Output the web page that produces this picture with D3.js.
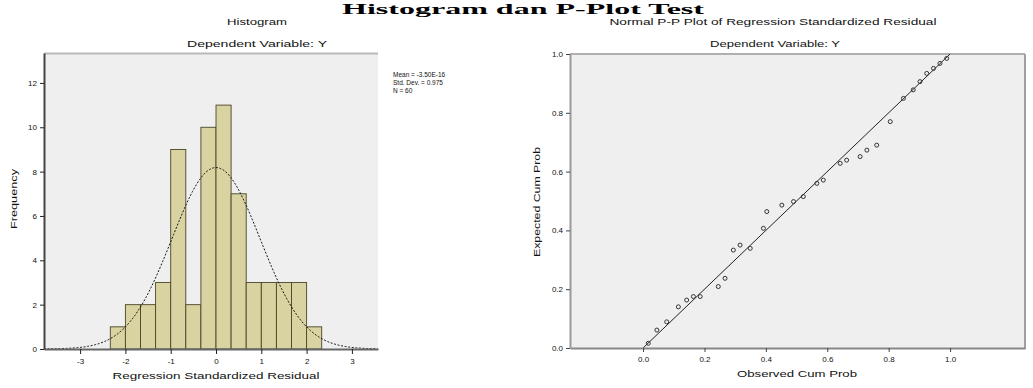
<!DOCTYPE html>
<html><head><meta charset="utf-8">
<script src="https://cdn.jsdelivr.net/npm/d3@7"></script>
<style>
html,body{margin:0;padding:0;background:#fff;}
svg{display:block;font-family:"Liberation Sans",Arial,sans-serif;}
</style></head>
<body>
<svg id="c" width="1033" height="388"></svg>
<script>
// ---------- data ----------
const mainTitle = "Histogram dan P-Plot Test";
const histTitle = "Histogram";
const depVar = "Dependent Variable: Y";
const ppTitle = "Normal P-P Plot of Regression Standardized Residual";

const binStart = -7/3, binWidth = 1/3;
const binCounts = [1, 2, 2, 3, 9, 2, 10, 11, 7, 3, 3, 3, 3, 1];
const histStats = {mean: -3.50e-16, sd: 0.975, n: 60};
const histLegend = ["Mean = -3.50E-16", "Std. Dev. = 0.975", "N = 60"];
const histXTicks = [-3, -2, -1, 0, 1, 2, 3];
const histYTicks = [0, 2, 4, 6, 8, 10, 12];

const ppObserved = [0.017,0.045,0.077,0.115,0.142,0.164,0.186,0.245,0.267,0.294,0.316,0.349,0.392,0.403,0.452,0.490,0.522,0.566,0.587,0.642,0.663,0.707,0.729,0.761,0.805,0.848,0.880,0.902,0.924,0.946,0.967,0.989];
const ppExpected = [0.016,0.061,0.089,0.140,0.163,0.175,0.175,0.209,0.237,0.333,0.350,0.339,0.407,0.464,0.486,0.498,0.515,0.560,0.571,0.628,0.639,0.651,0.673,0.690,0.770,0.849,0.878,0.906,0.934,0.951,0.968,0.985];
const ppTicks = [0, 0.2, 0.4, 0.6, 0.8, 1.0];

// ---------- drawing ----------
const svg = d3.select("#c");

svg.append("text").attr("x", 523).attr("y", 14).attr("text-anchor","middle")
  .attr("font-family","'Liberation Serif','Times New Roman',serif").attr("font-weight","bold")
  .attr("font-size", 15.5).attr("textLength", 362).attr("lengthAdjust","spacingAndGlyphs")
  .text(mainTitle);

function label(x, y, txt, len, size, rot) {
  const t = svg.append("text").attr("text-anchor","middle").attr("font-size", size || 9)
    .attr("fill","#111").text(txt);
  if (len) t.attr("textLength", len).attr("lengthAdjust","spacingAndGlyphs");
  if (rot) t.attr("transform", `translate(${x},${y}) rotate(-90)`);
  else t.attr("x", x).attr("y", y);
  return t;
}

// ===== Histogram =====
const hx = d3.scaleLinear().domain([-3.797, 3.576]).range([44, 378]);
const hy = d3.scaleLinear().domain([0, 13.35]).range([349, 53]);

svg.append("rect").attr("x", 44).attr("y", 53).attr("width", 334).attr("height", 296).attr("fill", "#efefef");
svg.append("line").attr("x1",44).attr("x2",378).attr("y1",53.5).attr("y2",53.5).attr("stroke","#b9b9b9").attr("stroke-width",2);

const bins = binCounts.map((c,i)=>({x0: binStart + i*binWidth, x1: binStart + (i+1)*binWidth, c}));
svg.append("g").selectAll("rect").data(bins).join("rect")
  .attr("x", d=>hx(d.x0)).attr("width", d=>hx(d.x1)-hx(d.x0))
  .attr("y", d=>hy(d.c)).attr("height", d=>hy(0)-hy(d.c))
  .attr("fill", "#d8d3a1").attr("stroke", "#4a4628").attr("stroke-width", 0.9);

const pdf = x => Math.exp(-0.5*Math.pow((x-histStats.mean)/histStats.sd,2))/(histStats.sd*Math.sqrt(2*Math.PI));
const curvePts = d3.range(-3.797, 3.576, 0.02).map(x=>[x, histStats.n*binWidth*pdf(x)]);
svg.append("path").datum(curvePts)
  .attr("d", d3.line().x(d=>hx(d[0])).y(d=>hy(d[1])))
  .attr("fill","none").attr("stroke","#111").attr("stroke-width",1).attr("stroke-dasharray","2,1.6");

const hxAxis = svg.append("g").attr("transform","translate(0,349)")
  .call(d3.axisBottom(hx).tickValues(histXTicks).tickSize(5).tickSizeOuter(0).tickFormat(d3.format("d")));
hxAxis.select(".domain").attr("stroke","#666").attr("stroke-width",2);
hxAxis.selectAll(".tick line").attr("stroke","#222");
hxAxis.selectAll(".tick text").attr("font-size",8).attr("fill","#111").attr("dy","0.9em").text(d=>d<0?"-"+Math.abs(d):d);

const hyAxis = svg.append("g").attr("transform","translate(44,0)")
  .call(d3.axisLeft(hy).tickValues(histYTicks).tickSize(4).tickSizeOuter(0));
hyAxis.select(".domain").attr("stroke","#444").attr("stroke-width",2);
hyAxis.selectAll(".tick line").attr("stroke","#222");
hyAxis.selectAll(".tick text").attr("font-size",8).attr("fill","#111");

label(257, 25, histTitle, 60, 9.5);
label(257, 47, depVar, 140, 9.5);
label(216, 379, "Regression Standardized Residual", 207, 9.5);
label(17, 199, "Frequency", 60, 9.5, true);

svg.append("g").selectAll("text").data(histLegend).join("text")
  .attr("x", 393).attr("y", (d,i)=>77+i*8).attr("font-size",6.5).attr("fill","#111").text(d=>d);

// ===== P-P plot =====
const px = d3.scaleLinear().domain([-0.238, 1.244]).range([570, 1025]);
const py = d3.scaleLinear().domain([0, 1]).range([348, 54]);

svg.append("rect").attr("x",570).attr("y",54).attr("width",455).attr("height",294).attr("fill","#efefef");
svg.append("line").attr("x1",570).attr("x2",1025).attr("y1",54).attr("y2",54).attr("stroke","#b0b0b0").attr("stroke-width",2);
svg.append("line").attr("x1",1025).attr("x2",1025).attr("y1",54).attr("y2",349).attr("stroke","#a0a0a0").attr("stroke-width",2);

svg.append("line").attr("x1",px(0)).attr("y1",py(0)).attr("x2",px(1)).attr("y2",py(1))
  .attr("stroke","#222").attr("stroke-width",1);

svg.append("g").selectAll("circle").data(ppObserved.map((o,i)=>[o, ppExpected[i]])).join("circle")
  .attr("cx", d=>px(d[0])).attr("cy", d=>py(d[1])).attr("r", 2)
  .attr("fill","none").attr("stroke","#333").attr("stroke-width",1);

const pxAxis = svg.append("g").attr("transform","translate(0,348)")
  .call(d3.axisBottom(px).tickValues(ppTicks).tickSize(4).tickSizeOuter(0).tickFormat(d3.format(".1f")));
pxAxis.select(".domain").attr("stroke","#888").attr("stroke-width",2);
pxAxis.selectAll(".tick line").attr("stroke","#444");
pxAxis.selectAll(".tick text").attr("font-size",8).attr("fill","#111").attr("dy","0.9em");

const pyAxis = svg.append("g").attr("transform","translate(570,0)")
  .call(d3.axisLeft(py).tickValues(ppTicks).tickSize(4).tickSizeOuter(0).tickFormat(d3.format(".1f")));
pyAxis.select(".domain").attr("stroke","#999").attr("stroke-width",2);
pyAxis.selectAll(".tick line").attr("stroke","#444");
pyAxis.selectAll(".tick text").attr("font-size",8).attr("fill","#111");

label(773, 25, ppTitle, 327, 9.5);
label(775, 47, depVar, 130, 9.5);
label(797, 377, "Observed Cum Prob", 120, 9.5);
label(540, 202, "Expected Cum Prob", 110, 9.5, true);
</script>
</body></html>
